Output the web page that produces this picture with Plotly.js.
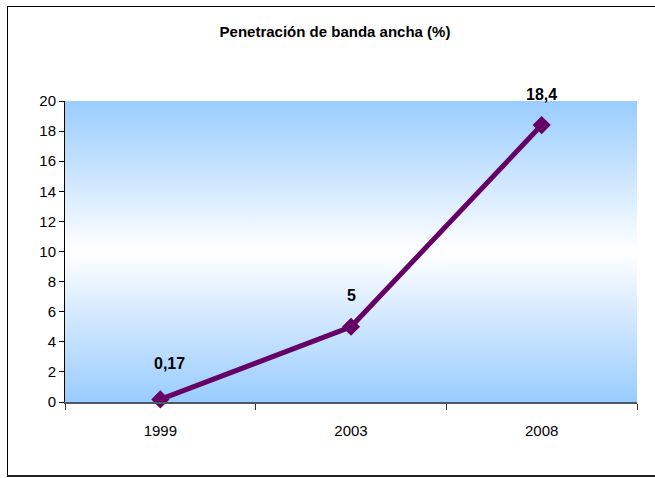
<!DOCTYPE html>
<html>
<head>
<meta charset="utf-8">
<script src="https://cdn.plot.ly/plotly-3.0.1.min.js"></script>
<style>
  html, body { margin: 0; padding: 0; background: #ffffff; overflow: hidden; }
  #wrap { position: relative; width: 655px; height: 478px; }
  #frame { position: absolute; left: 7px; top: 6px; width: 700px; height: 471px;
           border: 1px solid #000; border-bottom: 2px solid #222; box-sizing: border-box; pointer-events: none; z-index: 2; }
  #chart { position: absolute; left: 0; top: 0; width: 655px; height: 478px; z-index: 1; }
</style>
</head>
<body>
<div id="wrap">
  <div id="chart"></div>
  <div id="frame"></div>
</div>
<script>
const years = ['1999', '2003', '2008'];
const values = [0.17, 5, 18.4];
const valueLabels = ['0,17', '5', '18,4'];
const yTicks = [0, 2, 4, 6, 8, 10, 12, 14, 16, 18, 20];

const gradSvg = '<svg xmlns="http://www.w3.org/2000/svg" width="100" height="100" preserveAspectRatio="none">' +
  '<defs><linearGradient id="g" x1="0" y1="0" x2="0" y2="1">' +
  '<stop offset="0" stop-color="#99ccff"/><stop offset="0.5" stop-color="#ffffff"/><stop offset="1" stop-color="#99ccff"/>' +
  '</linearGradient></defs><rect width="100" height="100" fill="url(#g)"/></svg>';
const gradUri = 'data:image/svg+xml;base64,' + btoa(gradSvg);

const trace = {
  x: years,
  y: values,
  type: 'scatter',
  mode: 'lines+markers',
  line: { color: '#660066', width: 5 },
  marker: { symbol: 'diamond', size: 14, color: '#660066' },
  cliponaxis: false,
  hoverinfo: 'none'
};

const annotations = years.map((yr, i) => ({
  x: i, y: values[i], xref: 'x', yref: 'y',
  text: '<b>' + valueLabels[i] + '</b>',
  showarrow: false,
  xanchor: 'center', yanchor: 'middle',
  yshift: i === 0 ? 36 : 31,
  xshift: i === 0 ? 9 : 0,
  font: { family: 'Liberation Sans, Arial, sans-serif', size: 16, color: '#000' }
}));

const layout = {
  width: 655, height: 478,
  margin: { l: 65, r: 18, t: 101, b: 76 },
  paper_bgcolor: 'rgba(0,0,0,0)',
  plot_bgcolor: 'rgba(0,0,0,0)',
  showlegend: false,
  title: {
    text: '<b>Penetración de banda ancha (%)</b>',
    font: { family: 'Liberation Sans, Arial, sans-serif', size: 15, color: '#000' },
    x: 335 / 655, xanchor: 'center', xref: 'container',
    y: 1 - 32 / 478, yanchor: 'middle', yref: 'container'
  },
  xaxis: {
    type: 'category',
    range: [-0.5, 2.5],
    showgrid: false, zeroline: false,
    showline: true, linecolor: '#4a5866', linewidth: 1.5,
    ticks: 'outside', ticklen: 6, tickcolor: '#333', tickson: 'boundaries',
    ticklabelstandoff: 14,
    tickfont: { family: 'Liberation Sans, Arial, sans-serif', size: 15, color: '#000' }
  },
  yaxis: {
    range: [0, 20],
    tickvals: yTicks,
    ticktext: yTicks.map(String),
    showgrid: false, zeroline: false,
    showline: true, linecolor: '#000', linewidth: 1,
    ticks: 'outside', ticklen: 5, tickcolor: '#000',
    tickfont: { family: 'Liberation Sans, Arial, sans-serif', size: 15, color: '#000' }
  },
  images: [{
    source: gradUri, xref: 'paper', yref: 'paper',
    x: 0, y: 1, sizex: 1, sizey: 1, sizing: 'stretch',
    xanchor: 'left', yanchor: 'top', layer: 'below'
  }],
  annotations: annotations
};

Plotly.newPlot('chart', [trace], layout, { staticPlot: true, displayModeBar: false });
</script>
</body>
</html>
